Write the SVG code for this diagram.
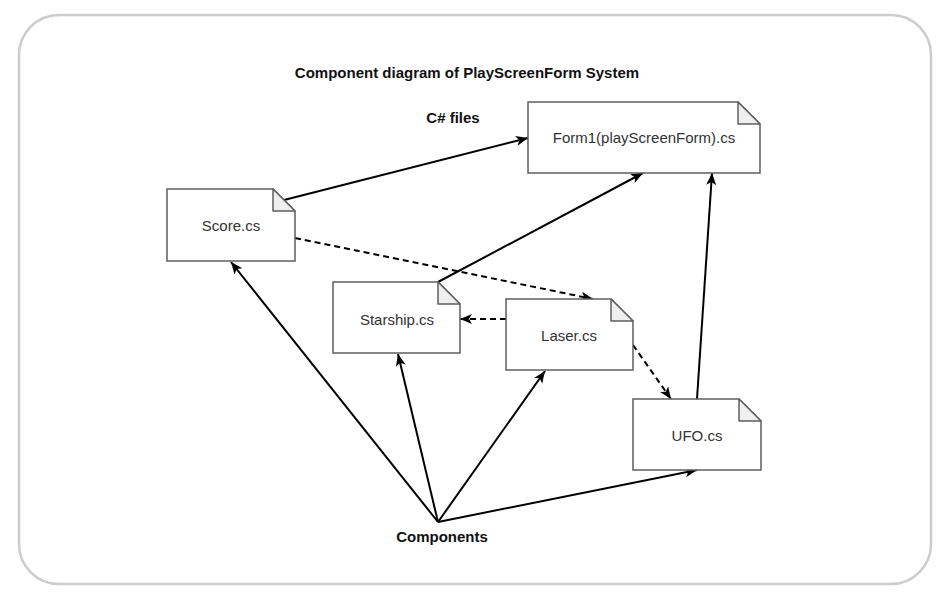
<svg xmlns="http://www.w3.org/2000/svg" width="950" height="600" viewBox="0 0 950 600">
<style>
.frame{fill:#fff;stroke:#cccccc;stroke-width:2.5}
.doc{fill:#fff;stroke:#5f5f5f;stroke-width:1.5}
.fold{fill:#efefef;stroke:#5f5f5f;stroke-width:1.5;stroke-linejoin:round}
.lbl{font-family:"Liberation Sans",Arial,sans-serif;font-size:15px;fill:#333;text-anchor:middle}
.bold{font-family:"Liberation Sans",Arial,sans-serif;font-size:15px;font-weight:bold;fill:#111;text-anchor:middle}
.edge{fill:none;stroke:#000;stroke-width:2}
.dash{stroke-dasharray:6,4}
</style>
<defs>
<marker id="arr" markerUnits="userSpaceOnUse" markerWidth="14" markerHeight="12" refX="12" refY="5" orient="auto">
<path d="M0,0 L12,5 L0,10 L3,5 Z" fill="#000"/>
</marker>
</defs>
<rect class="frame" x="19" y="15" width="912" height="569" rx="40" ry="40"/>
<text class="bold" x="467" y="78">Component diagram of PlayScreenForm System</text>
<text class="bold" x="453" y="123">C# files</text>
<text class="bold" x="442" y="542">Components</text>
<g id="connectors">
<line class="edge" x1="284" y1="200" x2="528" y2="138" marker-end="url(#arr)"/>
<line class="edge" x1="438" y1="282" x2="643" y2="173" marker-end="url(#arr)"/>
<line class="edge" x1="697" y1="399" x2="712" y2="173" marker-end="url(#arr)"/>
<line class="edge dash" x1="295" y1="238" x2="593" y2="299" marker-end="url(#arr)"/>
<line class="edge dash" x1="506" y1="319" x2="460" y2="319" marker-end="url(#arr)"/>
<line class="edge dash" x1="633" y1="345" x2="671" y2="399" marker-end="url(#arr)"/>
<line class="edge" x1="438" y1="522" x2="231" y2="262" marker-end="url(#arr)"/>
<line class="edge" x1="438" y1="522" x2="398" y2="354" marker-end="url(#arr)"/>
<line class="edge" x1="438" y1="522" x2="545" y2="371" marker-end="url(#arr)"/>
<line class="edge" x1="438" y1="522" x2="697" y2="470" marker-end="url(#arr)"/>
</g>
<g id="score">
<path class="doc" d="M167,189 H273 L295,211 V261 H167 Z"/>
<path class="fold" d="M273,189 V211 H295 Z"/>
<text class="lbl" x="231" y="231">Score.cs</text>
</g>
<g id="form1">
<path class="doc" d="M528,102 H738 L760,124 V173 H528 Z"/>
<path class="fold" d="M738,102 V124 H760 Z"/>
<text class="lbl" x="644" y="143">Form1(playScreenForm).cs</text>
</g>
<g id="starship">
<path class="doc" d="M333,282 H438 L460,304 V353 H333 Z"/>
<path class="fold" d="M438,282 V304 H460 Z"/>
<text class="lbl" x="397" y="325">Starship.cs</text>
</g>
<g id="laser">
<path class="doc" d="M506,299 H611 L633,321 V370 H506 Z"/>
<path class="fold" d="M611,299 V321 H633 Z"/>
<text class="lbl" x="569" y="341">Laser.cs</text>
</g>
<g id="ufo">
<path class="doc" d="M633,399 H739 L761,421 V470 H633 Z"/>
<path class="fold" d="M739,399 V421 H761 Z"/>
<text class="lbl" x="697" y="441">UFO.cs</text>
</g>
</svg>
